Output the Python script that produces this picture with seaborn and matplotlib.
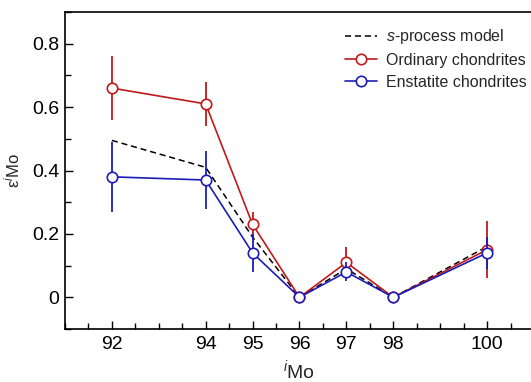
import numpy as np
import pandas as pd
import matplotlib
matplotlib.use("Agg")
import matplotlib.pyplot as plt
import seaborn as sns
from matplotlib.ticker import FixedLocator, MultipleLocator
from matplotlib.lines import Line2D

# data
isotopes = [92, 94, 95, 96, 97, 98, 100]
s_model = [0.495, 0.41, 0.19, 0.0, 0.09, 0.0, 0.16]
ordinary = [0.66, 0.61, 0.23, 0.0, 0.11, 0.0, 0.15]
ordinary_err = [0.10, 0.07, 0.04, 0.0, 0.05, 0.0, 0.09]
enstatite = [0.38, 0.37, 0.14, 0.0, 0.08, 0.0, 0.14]
enstatite_err = [0.11, 0.09, 0.06, 0.0, 0.03, 0.0, 0.05]

red = "#c01a1a"
blue = "#1c1cb8"
msize = 7.5

sns.set_theme(style="ticks")
plt.rcParams["font.family"] = ["Liberation Sans", "DejaVu Sans"]
plt.rcParams["mathtext.fontset"] = "custom"
plt.rcParams["mathtext.it"] = "Liberation Sans:italic"
plt.rcParams["mathtext.rm"] = "Liberation Sans"

df = pd.DataFrame({
    "iso": isotopes * 3,
    "eps": s_model + ordinary + enstatite,
    "series": ["model"] * 7 + ["ordinary"] * 7 + ["enstatite"] * 7,
})

fig = plt.figure(figsize=(5.31, 3.82), dpi=100)
ax = fig.add_axes([0.1224, 0.1387, 0.8832, 0.8299])

sns.lineplot(data=df[df.series == "model"], x="iso", y="eps", color="black",
             linestyle=(0, (4, 2.5)), linewidth=1.1, ax=ax, zorder=2)

for vals, errs, col, z in [(ordinary, ordinary_err, red, 3), (enstatite, enstatite_err, blue, 5)]:
    ax.errorbar(isotopes, vals, yerr=errs, fmt="none", ecolor=col, elinewidth=1.3, capsize=0, zorder=z)
    name = "ordinary" if col == red else "enstatite"
    sns.lineplot(data=df[df.series == name], x="iso", y="eps", color=col, linewidth=1.2,
                 marker="o", markersize=msize, markerfacecolor="white", markeredgecolor=col,
                 markeredgewidth=1.2, ax=ax, zorder=z + 1)

ax.set_xlim(91, 101)
ax.set_ylim(-0.1, 0.9)
ax.xaxis.set_major_locator(FixedLocator(isotopes))
ax.xaxis.set_minor_locator(MultipleLocator(0.5))
ax.yaxis.set_major_locator(FixedLocator([0, 0.2, 0.4, 0.6, 0.8]))
ax.yaxis.set_minor_locator(MultipleLocator(0.1))
ax.set_yticklabels(["0", "0.2", "0.4", "0.6", "0.8"])
ax.tick_params(which="both", direction="in", width=1.0, labelsize=14, color="black", labelcolor="black")
ax.tick_params(which="major", length=6, pad=4)
ax.tick_params(which="minor", length=4)
ax.tick_params(axis="x", pad=5)
for sp in ax.spines.values():
    sp.set_linewidth(1.2)
    sp.set_color("black")

ax.set_xlabel(r"$^{i}$Mo", fontsize=14, labelpad=4)
ax.set_ylabel(r"ε$^{i}$Mo", fontsize=12, labelpad=7)

handles = [
    Line2D([], [], color="black", linestyle=(0, (4, 2.5)), linewidth=1.1),
    Line2D([], [], color=red, linewidth=1.2, marker="o", markersize=msize,
           markerfacecolor="white", markeredgecolor=red, markeredgewidth=1.2),
    Line2D([], [], color=blue, linewidth=1.2, marker="o", markersize=msize,
           markerfacecolor="white", markeredgecolor=blue, markeredgewidth=1.2),
]
labels = [r"$\it{s}$-process model", "Ordinary chondrites", "Enstatite chondrites"]
ax.legend(handles, labels, loc="upper left", bbox_to_anchor=(0.583, 0.972), frameon=False,
          fontsize=11.5, handlelength=2.0, handletextpad=0.55, labelspacing=0.42, borderaxespad=0)

fig.savefig("out.png", dpi=100)
